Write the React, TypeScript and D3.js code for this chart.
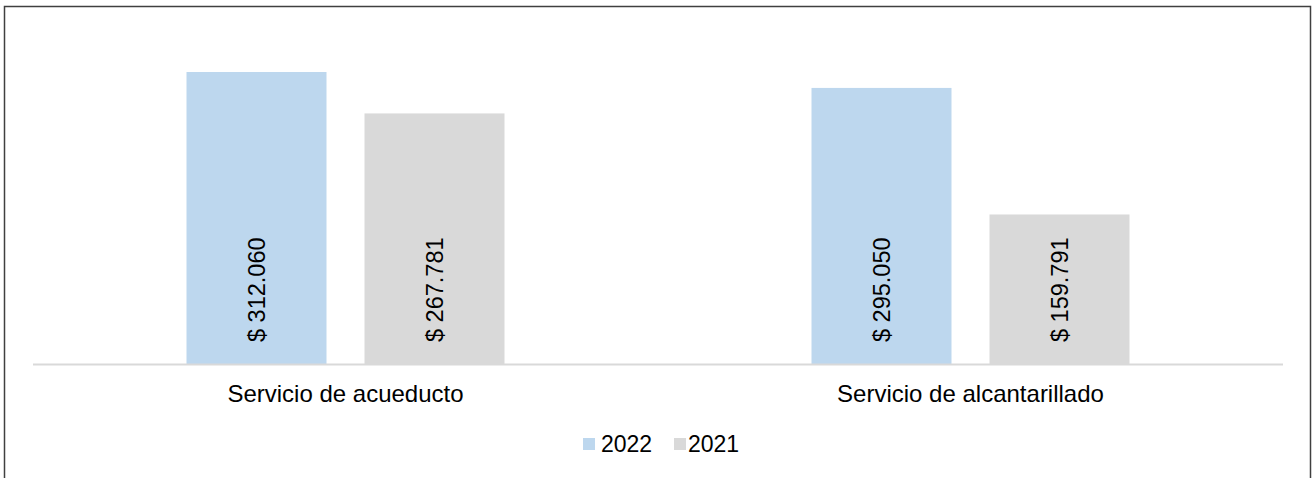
import React from "react";
import * as d3 from "d3";

const categories = ["Servicio de acueducto", "Servicio de alcantarillado"];
const seriesNames = ["2022", "2021"];
const values2022 = [312060, 295050];
const values2021 = [267781, 159791];
const seriesColors = ["#BDD7EE", "#D9D9D9"];

const W = 1312;
const H = 478;
const FONT = "Arial, 'Liberation Sans', sans-serif";

export default function App() {
  const series = [values2022, values2021];
  const baseY = 364;
  const y = d3.scaleLinear().domain([0, 350000]).range([baseY, 36.5]);
  const x0 = d3.scaleBand<string>().domain(categories).range([33, 1283]).padding(0);
  const groupW = 318;
  const x1 = d3
    .scaleBand<string>()
    .domain(seriesNames)
    .range([0, groupW])
    .paddingInner(0.2135)
    .paddingOuter(0);
  const fmt = (v: number) => "$ " + d3.format(",")(v).replace(/,/g, ".");

  const legendItems = [
    { name: seriesNames[0], color: seriesColors[0], sx: 583, tx: 601 },
    { name: seriesNames[1], color: seriesColors[1], sx: 674, tx: 688 },
  ];

  return (
    <svg
      width={W}
      height={H}
      style={{ position: "absolute", left: 0, top: 0, background: "#fff" }}
      fontFamily={FONT}
    >
      <rect x={0} y={0} width={W} height={H} fill="#fff" />
      <rect x={4.5} y={6.5} width={1306} height={500} fill="none" stroke="#404040" strokeWidth={1.5} />
      {categories.map((c, ci) => {
        const gx = (x0(c) as number) + x0.bandwidth() / 2 - groupW / 2;
        return (
          <g key={c}>
            {seriesNames.map((s, si) => {
              const v = series[si][ci];
              const bx = gx + (x1(s) as number);
              const bw = x1.bandwidth();
              const cx = bx + bw / 2;
              return (
                <g key={s}>
                  <rect x={bx} y={y(v)} width={bw} height={baseY - y(v)} fill={seriesColors[si]} />
                  <text
                    transform={`translate(${cx},${baseY - 22}) rotate(-90)`}
                    textAnchor="start"
                    dy="0.36em"
                    fontSize={23.5}
                    fill="#000"
                  >
                    {fmt(v)}
                  </text>
                </g>
              );
            })}
            <text
              x={(x0(c) as number) + x0.bandwidth() / 2}
              y={402}
              textAnchor="middle"
              fontSize={24}
              fill="#000"
            >
              {c}
            </text>
          </g>
        );
      })}
      <line x1={33} x2={1283} y1={364.5} y2={364.5} stroke="#D9D9D9" strokeWidth={2} />
      {legendItems.map((l) => (
        <g key={l.name}>
          <rect x={l.sx} y={438} width={12} height={12} fill={l.color} />
          <text x={l.tx} y={452} fontSize={23} fill="#000">
            {l.name}
          </text>
        </g>
      ))}
    </svg>
  );
}
